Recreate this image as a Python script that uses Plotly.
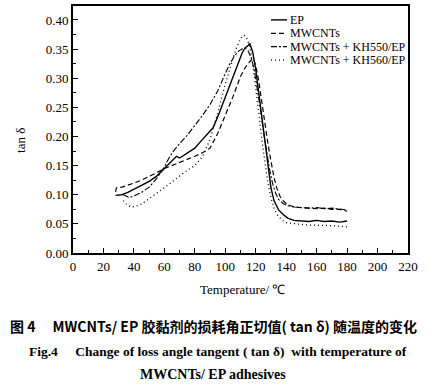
import plotly.graph_objects as go

# ---- data ----
ep_x = [28, 32, 36, 40, 45, 50, 55, 60, 63, 66, 68, 70, 73, 76, 80, 84, 88, 92, 96, 100, 104, 108, 111, 113, 115, 116, 117, 118, 120, 122, 124, 126, 128, 130, 132, 135, 138, 141, 145, 150, 155, 160, 165, 170, 175, 180]
ep_y = [0.099, 0.100, 0.104, 0.109, 0.116, 0.123, 0.132, 0.145, 0.153, 0.160, 0.166, 0.163, 0.168, 0.172, 0.180, 0.192, 0.203, 0.215, 0.240, 0.268, 0.295, 0.325, 0.343, 0.352, 0.356, 0.360, 0.352, 0.345, 0.315, 0.275, 0.232, 0.188, 0.145, 0.112, 0.090, 0.074, 0.066, 0.060, 0.056, 0.055, 0.054, 0.056, 0.054, 0.055, 0.053, 0.055]

mw_x = [28, 28.5, 32, 36, 40, 45, 50, 55, 60, 65, 70, 75, 80, 85, 90, 95, 100, 105, 110, 113, 116, 118, 119, 120, 122, 124, 126, 128, 130, 132, 134, 136, 138, 140, 143, 146, 150, 155, 160, 165, 170, 175, 180]
mw_y = [0.105, 0.112, 0.113, 0.116, 0.120, 0.125, 0.131, 0.138, 0.145, 0.150, 0.155, 0.160, 0.166, 0.172, 0.180, 0.205, 0.235, 0.268, 0.303, 0.318, 0.328, 0.334, 0.330, 0.322, 0.295, 0.258, 0.220, 0.188, 0.158, 0.130, 0.110, 0.097, 0.090, 0.085, 0.081, 0.079, 0.078, 0.077, 0.076, 0.077, 0.075, 0.075, 0.072]

k550_x = [33, 35, 37, 40, 45, 50, 55, 60, 63, 66, 70, 75, 80, 85, 90, 95, 100, 103, 106, 109, 111, 113, 115, 117, 119, 121, 123, 125, 127, 129, 131, 133, 135, 138, 141, 145, 150, 155, 160, 165, 170, 175, 180]
k550_y = [0.100, 0.097, 0.095, 0.098, 0.104, 0.113, 0.128, 0.148, 0.163, 0.175, 0.188, 0.202, 0.218, 0.236, 0.255, 0.278, 0.308, 0.325, 0.338, 0.347, 0.350, 0.352, 0.347, 0.335, 0.315, 0.285, 0.248, 0.210, 0.175, 0.145, 0.120, 0.103, 0.092, 0.085, 0.081, 0.079, 0.078, 0.077, 0.078, 0.076, 0.077, 0.075, 0.074]

k560_x = [33, 35, 38, 41, 45, 50, 55, 60, 65, 70, 75, 80, 85, 90, 95, 100, 104, 107, 110, 112, 114, 116, 118, 120, 122, 124, 126, 128, 130, 132, 134, 137, 140, 145, 150, 155, 160, 165, 170, 175, 180]
k560_y = [0.090, 0.084, 0.079, 0.080, 0.084, 0.093, 0.103, 0.112, 0.122, 0.132, 0.142, 0.150, 0.165, 0.195, 0.240, 0.290, 0.325, 0.350, 0.368, 0.374, 0.370, 0.355, 0.325, 0.285, 0.240, 0.195, 0.155, 0.120, 0.095, 0.077, 0.066, 0.057, 0.052, 0.050, 0.049, 0.048, 0.048, 0.047, 0.047, 0.046, 0.045]

series_names = ["EP", "MWCNTs", "MWCNTs + KH550/EP", "MWCNTs + KH560/EP"]

x_ticks = [0, 20, 40, 60, 80, 100, 120, 140, 160, 180, 200, 220]
y_ticks = [0.00, 0.05, 0.10, 0.15, 0.20, 0.25, 0.30, 0.35, 0.40]
y_tick_labels = ["0.00", "0.05", "0.10", "0.15", "0.20", "0.25", "0.30", "0.35", "0.40"]

x_title = "Temperature/ ℃"
y_title = "tan δ"
caption_cn = "图 4　 MWCNTs/ EP 胶黏剂的损耗角正切值( tan δ) 随温度的变化"
caption_en1 = "Fig.4　 Change of loss angle tangent ( tan δ)  with temperature of"
caption_en2 = "MWCNTs/ EP adhesives"

SERIF = "Liberation Serif"

# plot area in pixels (for converting legend / caption placement to paper coords)
L, R, T, B = 73, 19, 4, 134
W, H = 427, 387
PW, PH = W - L - R, H - T - B


def px2paper(px, py):
    return (px - L) / PW, (H - B - py) / PH


fig = go.Figure()
styles = [
    dict(dash="solid", width=1.4),
    dict(dash="5px,3px", width=1.2),
    dict(dash="6px,2px,2px,2px", width=1.1),
    dict(dash="1px,3px", width=1.3),
]
data = [(ep_x, ep_y), (mw_x, mw_y), (k550_x, k550_y), (k560_x, k560_y)]
for (xs, ys), name, st in zip(data, series_names, styles):
    fig.add_trace(go.Scatter(x=xs, y=ys, mode="lines", name=name, showlegend=False,
                             line=dict(color="black", width=st["width"], dash=st["dash"])))

axis_common = dict(
    showline=True, linecolor="black", linewidth=2, mirror=True,
    ticks="inside", ticklen=5, tickwidth=1.2, tickcolor="black",
    showgrid=False, zeroline=False,
    tickfont=dict(family=SERIF, size=13, color="black"),
)
fig.update_xaxes(range=[0, 220], tickvals=x_ticks,
                 minor=dict(ticks="inside", ticklen=3, tickwidth=1, tickcolor="black", dtick=10, tick0=0),
                 **axis_common)
fig.update_yaxes(range=[0, 0.424], tickvals=y_ticks, ticktext=y_tick_labels,
                 minor=dict(ticks="inside", ticklen=3, tickwidth=1, tickcolor="black", dtick=0.025, tick0=0),
                 **axis_common)

fig.update_layout(
    width=W, height=H,
    margin=dict(l=L, r=R, t=T, b=B),
    paper_bgcolor="white", plot_bgcolor="white",
    showlegend=False,
    font=dict(family=SERIF, color="black"),
)

# ---- legend (line samples + labels) ----
row_y = [18, 31.5, 45, 58.5]
for name, st, py in zip(series_names, styles, row_y):
    x0, y0 = px2paper(271, py)
    x1, _ = px2paper(287, py)
    fig.add_shape(type="line", xref="paper", yref="paper", x0=x0, x1=x1, y0=y0, y1=y0,
                  line=dict(color="black", width=st["width"], dash=st["dash"]))
    tx, ty = px2paper(288, py)
    fig.add_annotation(text=name, x=tx, y=ty, xref="paper", yref="paper", showarrow=False,
                       xanchor="left", yanchor="middle",
                       font=dict(family=SERIF, size=12, color="black"))


# ---- axis titles & caption ----
def add_text(text, px, py, size, family=SERIF, angle=0):
    x, y = px2paper(px, py)
    fig.add_annotation(text=text, x=x, y=y, xref="paper", yref="paper", showarrow=False,
                       xanchor="center", yanchor="middle", textangle=angle,
                       font=dict(family=family, size=size, color="black"))


add_text(y_title, 21, 140, 13, angle=-90)
add_text(x_title, 242, 290, 13)
add_text("<b>" + caption_cn + "</b>", 213, 327, 14, family="Noto Sans CJK SC")
add_text("<b>" + caption_en1 + "</b>", 218, 352, 13.5)
add_text("<b>" + caption_en2 + "</b>", 213, 375, 14)

fig.write_html("out.html", config={"displayModeBar": False},
               post_script="document.body.style.margin='0';")
